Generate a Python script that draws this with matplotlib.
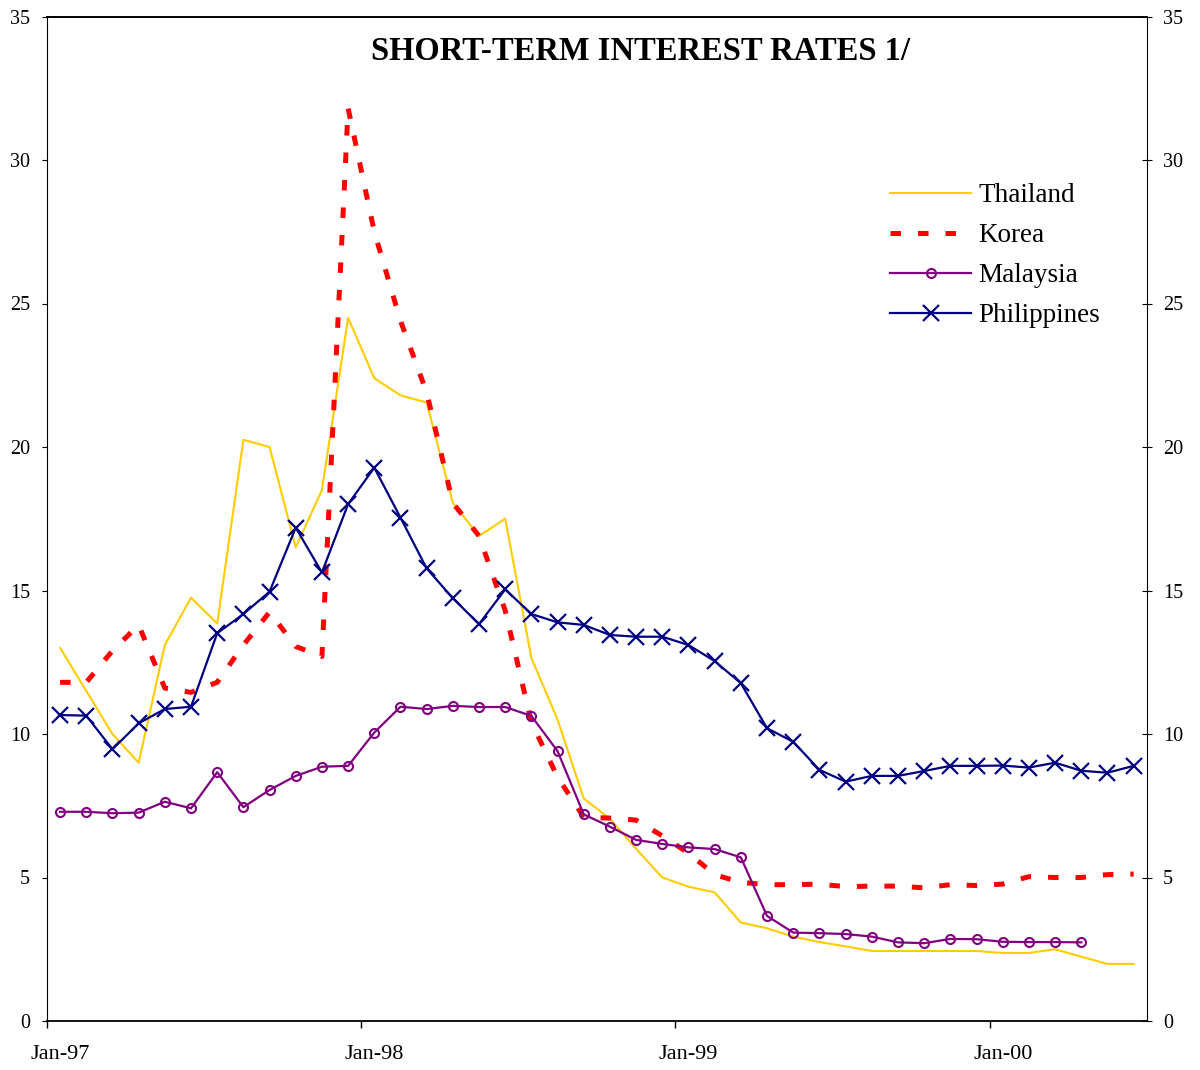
import matplotlib
matplotlib.use("Agg")
import matplotlib.pyplot as plt
import numpy as np

plt.rcParams['font.family'] = ['Liberation Serif', 'DejaVu Serif']

tick_positions = [0, 12, 24, 36]
tick_labels = ["Jan-97", "Jan-98", "Jan-99", "Jan-00"]

thailand = [13.0, 11.5, 10.0, 9.0, 13.1, 14.75, 13.85, 20.25, 20.0, 16.5, 18.5, 24.5,
            22.4, 21.8, 21.55, 18.05, 16.9, 17.5, 12.65, 10.5, 7.75, 7.05, 6.0, 5.0,
            4.68, 4.48, 3.43, 3.23, 2.94, 2.75, 2.6, 2.44, 2.44, 2.44, 2.44, 2.44,
            2.37, 2.37, 2.5, 2.24, 1.99, 1.99]
korea = [11.8, 11.8, 12.9, 13.8, 11.6, 11.45, 11.8, 13.1, 14.25, 13.05, 12.7, 31.8,
         27.5, 24.4, 21.9, 18.05, 16.9, 14.3, 10.4, 8.5, 7.1, 7.07, 7.0, 6.45,
         5.85, 5.1, 4.83, 4.75, 4.75, 4.77, 4.68, 4.7, 4.7, 4.64, 4.75, 4.72,
         4.77, 5.03, 5.0, 5.0, 5.1, 5.12]
malaysia = [7.29, 7.29, 7.24, 7.26, 7.64, 7.41, 8.67, 7.45, 8.05, 8.54, 8.86, 8.89,
            10.05, 10.95, 10.87, 10.98, 10.94, 10.94, 10.63, 9.4, 7.2, 6.77, 6.31, 6.17,
            6.05, 5.99, 5.7, 3.66, 3.08, 3.06, 3.03, 2.94, 2.74, 2.71, 2.86, 2.85,
            2.76, 2.75, 2.75, 2.74]
philippines = [10.66, 10.64, 9.47, 10.37, 10.87, 10.95, 13.51, 14.18, 14.96, 17.19, 15.63, 18.01,
               19.28, 17.54, 15.77, 14.73, 13.83, 15.04, 14.18, 13.89, 13.8, 13.45, 13.39, 13.39,
               13.1, 12.54, 11.77, 10.2, 9.73, 8.75, 8.34, 8.54, 8.54, 8.71, 8.89, 8.89,
               8.9, 8.83, 9.0, 8.72, 8.65, 8.89]

fig = plt.figure(figsize=(12, 10.7), dpi=100)
ax = fig.add_axes([47/1200, 1 - 1021/1070, (1146.7 - 47)/1200, (1021 - 16.5)/1070])

def xs(n):
    return np.arange(n) + 0.5

ax.plot(xs(len(thailand)), thailand, color='#FFCC00', lw=1.5, label='Thailand', zorder=2)
ax.plot(xs(len(korea)), korea, color='#FF0000', lw=3.6, ls=(0, (2.1, 3.4)),
        dash_capstyle='butt', label='Korea', zorder=3)
ax.plot(xs(len(malaysia)), malaysia, color='#800080', lw=1.6, marker='o', ms=6.5,
        mfc='none', mec='#800080', mew=1.5, label='Malaysia', zorder=4)
ax.plot(xs(len(philippines)), philippines, color='#000080', lw=1.6, marker='x', ms=11,
        mew=1.6, label='Philippines', zorder=5)

ax.set_xlim(0, 42)
ax.set_ylim(0, 35)
ax.set_yticks(np.arange(0, 36, 5))
ax.set_xticks(tick_positions)
ax.set_xticklabels([])
ax.set_xticks([p + 0.5 for p in tick_positions], minor=True)
ax.set_xticklabels(tick_labels, minor=True)
ax.tick_params(axis='x', which='major', direction='out', length=5, width=1)
ax.tick_params(axis='x', which='minor', length=0, pad=17, labelsize=16)
ax.tick_params(axis='y', direction='out', length=3.8, width=0.8, pad=8.5, labelsize=14.5)

ax.spines['left'].set_linewidth(0.8)
ax.spines['bottom'].set_linewidth(1.3)
ax.spines['top'].set_linewidth(1.4)
ax.spines['right'].set_visible(False)

ax2 = ax.twinx()
ax2.set_ylim(0, 35)
ax2.set_yticks(np.arange(0, 36, 5))
ax2.tick_params(axis='y', direction='inout', length=7.5, width=0.8, pad=8, labelsize=14.5)
for s in ['left', 'top', 'bottom']:
    ax2.spines[s].set_visible(False)
ax2.spines['right'].set_linewidth(0.8)

leg = ax.legend(loc='upper left', bbox_to_anchor=(890/1200, 1 - 183/1070),
                bbox_transform=fig.transFigure, frameon=False, fontsize=19.5,
                handlelength=3.0, handletextpad=0.25, labelspacing=0.555,
                borderpad=0, borderaxespad=0)

fig.text(641/1200, 1 - 51/1070, "SHORT-TERM INTEREST RATES 1/", ha='center', va='center',
         fontsize=23.5, fontweight='bold')

fig.savefig("out.png", dpi=100)
